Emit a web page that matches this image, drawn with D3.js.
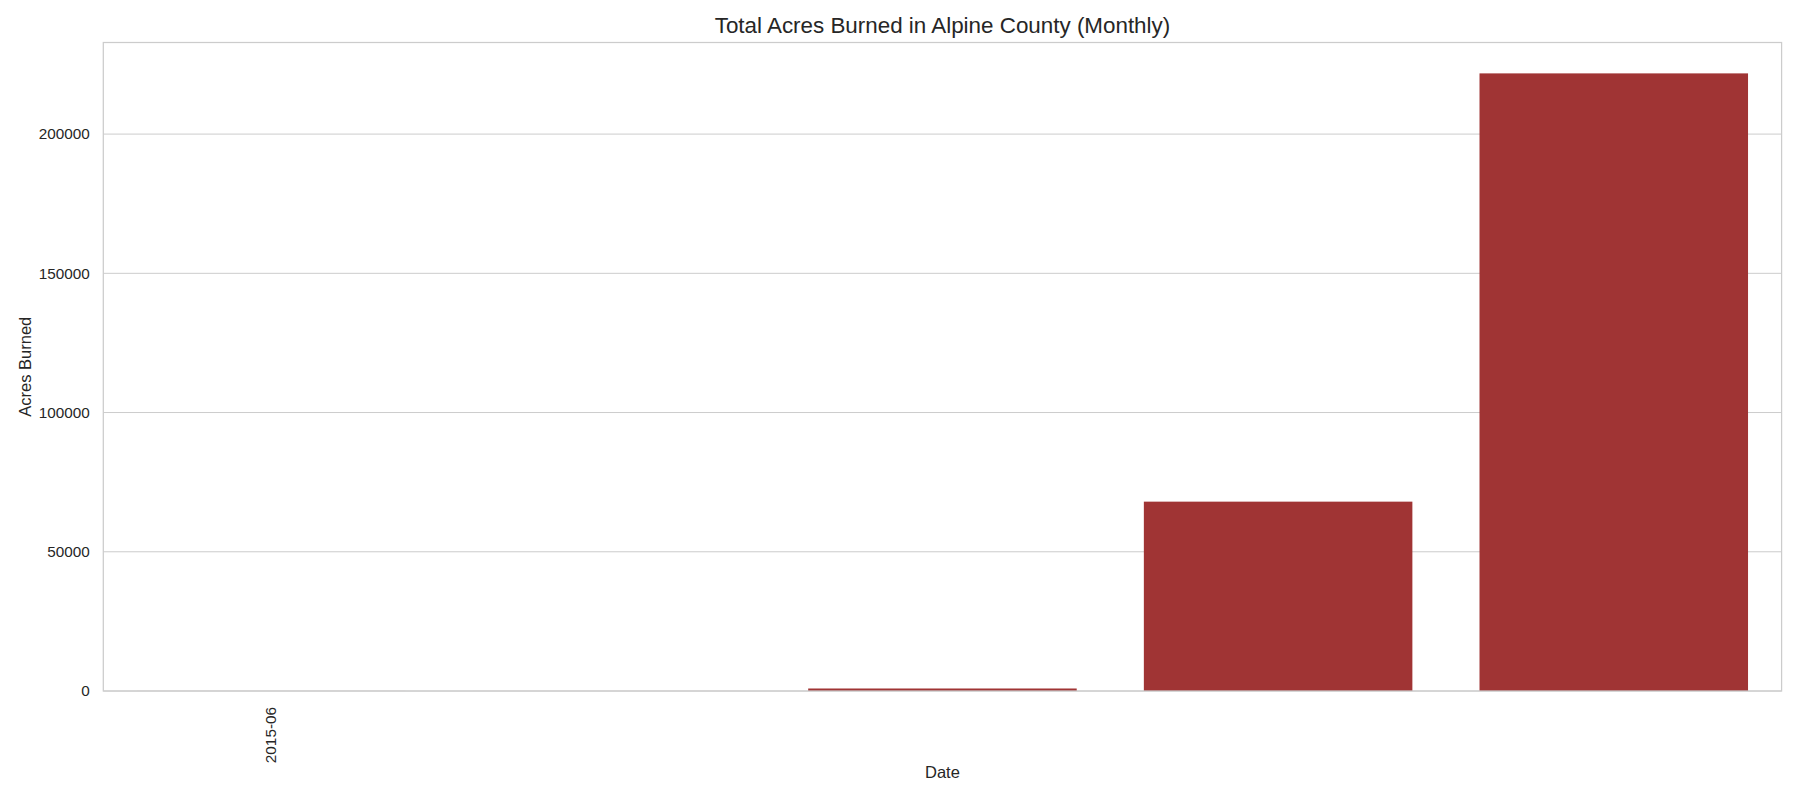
<!DOCTYPE html>
<html>
<head>
<meta charset="utf-8">
<script src="https://cdn.jsdelivr.net/npm/d3@7"></script>
<style>
  body { margin: 0; background: #fff; }
  svg { display: block; }
  text { font-family: "Liberation Sans", Arial, sans-serif; fill: #262626; }
</style>
</head>
<body>
<svg id="chart" width="1800" height="800"></svg>
<script>
// ---- data ----
const categories = ["2015-06", "2017-08", "2020-08", "2021-07", "2021-08"];
const acresBurned = [8, 3, 900, 68000, 221800];
const xTickLabels = ["2015-06"];            // only this label is shown on the axis
const yTicks = [0, 50000, 100000, 150000, 200000];
const titleText = "Total Acres Burned in Alpine County (Monthly)";
const xLabel = "Date";
const yLabel = "Acres Burned";

// ---- layout ----
const W = 1800, H = 800;
const m = { left: 103.3, right: 1800 - 1781.6, top: 42.5, bottom: 800 - 691 };
const iw = W - m.left - m.right, ih = H - m.top - m.bottom;

const svg = d3.select("#chart");
const g = svg.append("g").attr("transform", `translate(${m.left},${m.top})`);

const x = d3.scaleBand().domain(categories).range([0, iw]).paddingInner(0.2).paddingOuter(0.1);
const y = d3.scaleLinear().domain([0, d3.max(acresBurned) * 1.05]).range([ih, 0]);

// gridlines
g.append("g")
  .selectAll("line").data(yTicks).join("line")
  .attr("x1", 0).attr("x2", iw)
  .attr("y1", d => y(d)).attr("y2", d => y(d))
  .attr("stroke", "#cccccc").attr("stroke-width", 1);

// bars
g.append("g")
  .selectAll("rect").data(categories).join("rect")
  .attr("x", d => x(d))
  .attr("width", x.bandwidth())
  .attr("y", (d, i) => y(acresBurned[i]))
  .attr("height", (d, i) => ih - y(acresBurned[i]))
  .attr("fill", "#a03434");

// spines
g.append("rect")
  .attr("x", 0).attr("y", 0).attr("width", iw).attr("height", ih)
  .attr("fill", "none").attr("stroke", "#cccccc").attr("stroke-width", 1.25);

// y axis
const yAxis = d3.axisLeft(y).tickValues(yTicks).tickSize(0).tickPadding(13.5).tickFormat(d3.format("d"));
const ya = g.append("g").call(yAxis);
ya.select(".domain").remove();
ya.selectAll("text").attr("font-size", "15.3px").attr("fill", "#262626")
  .style("font-family", '"Liberation Sans", Arial, sans-serif');

// x axis (only the shown labels)
const xAxis = d3.axisBottom(x).tickValues(xTickLabels).tickSize(0).tickPadding(0);
const xa = g.append("g").attr("transform", `translate(0,${ih})`).call(xAxis);
xa.select(".domain").remove();
xa.selectAll("text")
  .attr("font-size", "15.3px").attr("fill", "#262626")
  .style("font-family", '"Liberation Sans", Arial, sans-serif')
  .attr("text-anchor", "end")
  .attr("dy", null)
  .attr("dominant-baseline", "central")
  .attr("transform", "translate(-1,16) rotate(-90)")
  .attr("y", 0).attr("x", 0);

// title
svg.append("text")
  .attr("x", m.left + iw / 2).attr("y", 33)
  .attr("text-anchor", "middle").attr("font-size", "22.4px")
  .text(titleText);

// x label
svg.append("text")
  .attr("x", m.left + iw / 2).attr("y", 778)
  .attr("text-anchor", "middle").attr("font-size", "16.5px")
  .text(xLabel);

// y label
svg.append("text")
  .attr("transform", `translate(31,${m.top + ih / 2}) rotate(-90)`)
  .attr("text-anchor", "middle").attr("font-size", "16.5px")
  .text(yLabel);
</script>
</body>
</html>
